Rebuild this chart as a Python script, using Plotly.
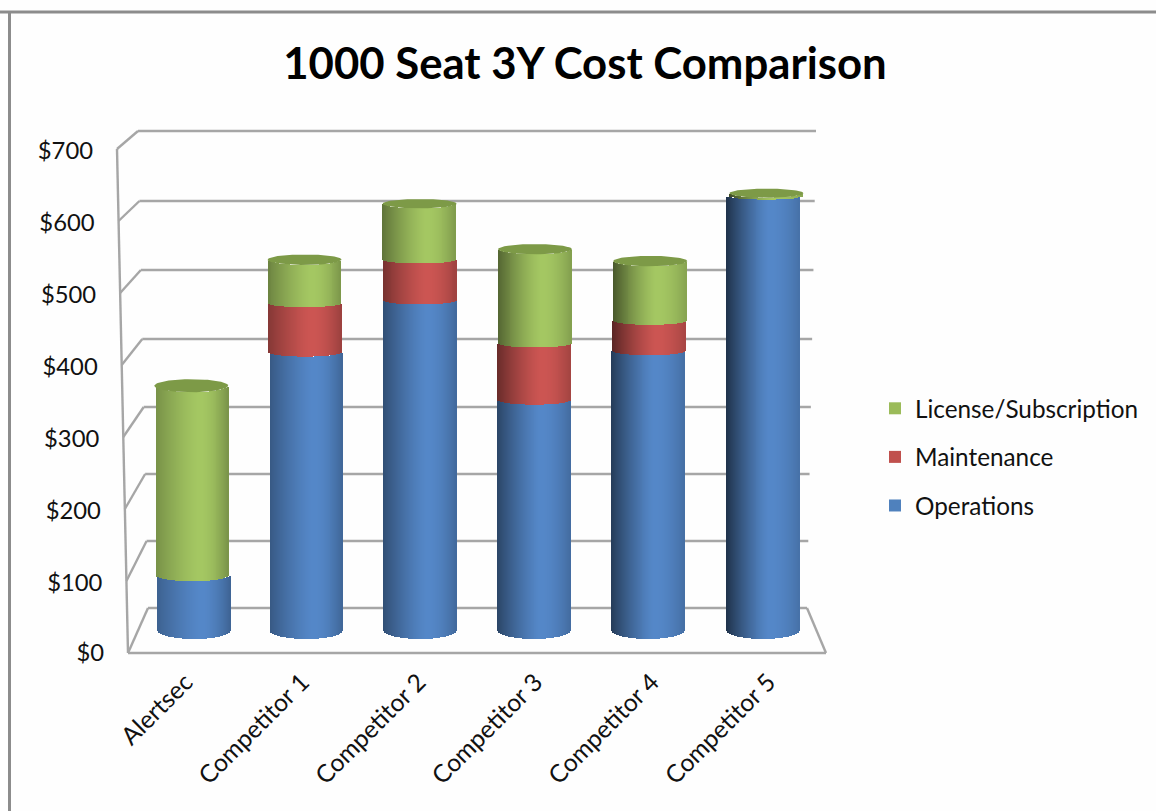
import numpy as np
import plotly.graph_objects as go

categories = ["Alertsec", "Competitor 1", "Competitor 2", "Competitor 3", "Competitor 4", "Competitor 5"]
operations = [79, 397, 471, 329, 399, 620]
maintenance = [0, 70, 58, 81, 43, 0]
license_sub = [270, 62, 80, 134, 85, 4]
y_tick_labels = ["$0", "$100", "$200", "$300", "$400", "$500", "$600", "$700"]
series_names = ["License/Subscription", "Maintenance", "Operations"]

W, H = 1156, 811
FONT = "Lato"
BASE_PX, K = 630.0, 0.70          # pixels of the cylinder floor, pixels per dollar
X0, DX = 195.0, 113.0             # first cylinder centre, spacing at the floor
HALF = 36.4                       # cylinder half width in pixels
N = 74

def x_of(px):
    return (px - X0) / DX

def y_of(py):
    return (BASE_PX - py) / K

def lean_px(i, h):
    return (i - 2.55) * 0.006 * h

def sag_mid(h):
    return 9.0 if h <= 0 else 7.0 - 0.009 * h

def sag_cap(h):
    return 6.5 - 0.01 * (h - 245)

def shade(rgb, t, left, right):
    peak = 0.2
    if t < peak:
        u = (peak - t) / (1 + peak)
        f = 1 - (1 - left) * u ** 1.35
    else:
        u = (t - peak) / (1 - peak)
        f = 1 - (1 - right) * u ** 1.8
    return "rgb(%d,%d,%d)" % tuple(int(c * f) for c in rgb)

BLUE, RED, GREEN = (85, 136, 201), (205, 86, 83), (165, 200, 99)
ts = (np.arange(N) + 0.5) / N * 2 - 1
seg_stack = [operations, maintenance, license_sub]
seg_rgb = [BLUE, RED, GREEN]
seg_names = ["Operations", "Maintenance", "License/Subscription"]

fig = go.Figure()

for s, vals in enumerate(seg_stack):
    xs, ys, bases, cols = [], [], [], []
    for i in range(len(categories)):
        v = vals[i]
        if v <= 0:
            continue
        lo = sum(seg_stack[k][i] for k in range(s))
        hi = lo + v
        top_series = (s == 2)
        hl, hh = lo * K, hi * K
        sl = sag_mid(hl)
        sh = sag_cap(hh) if top_series else sag_mid(hh)
        cx = x_of(X0 + DX * i + lean_px(i, (hl + hh) / 2))
        left = 0.72 - 0.07 * i
        right = 0.74 + 0.02 * i
        for t in ts:
            arc = np.sqrt(1 - t * t)
            b = lo - sl * arc / K
            e = hi - sh * arc / K
            xs.append(cx + t * HALF / DX)
            ys.append(e - b)
            bases.append(b)
            cols.append(shade(seg_rgb[s], t, left, right))
    fig.add_trace(go.Bar(x=xs, y=ys, base=bases, width=1.6 / DX, name=seg_names[s],
                         marker=dict(color=cols, line=dict(width=0)),
                         showlegend=False, hoverinfo="skip"))

# caps of the cylinders
th = np.linspace(0, 2 * np.pi, 80)
for i in range(len(categories)):
    total = operations[i] + maintenance[i] + license_sub[i]
    h = total * K
    cx = x_of(X0 + DX * i + lean_px(i, h))
    fig.add_trace(go.Scatter(x=cx + np.cos(th) * (HALF + 0.6) / DX,
                             y=total + np.sin(th) * sag_cap(h) / K,
                             mode="lines", fill="toself", fillcolor="#7d9a47",
                             line=dict(width=0, color="#7d9a47"),
                             showlegend=False, hoverinfo="skip"))

# value labels beside the slanted front axis
n_ticks = len(y_tick_labels)
front_y = [653 - 72 * n for n in range(n_ticks)]
front_x = [128 - 11 * n / 7 for n in range(n_ticks)]
label_y = [p + (2.5 if n == 0 else 4.5) for n, p in enumerate(front_y)]
fig.add_trace(go.Scatter(x=[x_of(p - 24) for p in front_x], y=[y_of(p) for p in label_y],
                         mode="text", text=y_tick_labels, textposition="middle left",
                         textfont=dict(family=FONT, size=23.8, color="#111111"),
                         showlegend=False, hoverinfo="skip"))

# legend entries
for name, col in zip(series_names, ["#9bbb59", "#c0504d", "#4f81bd"]):
    fig.add_trace(go.Scatter(x=[None], y=[None], mode="markers", name=name, legendgroup=name,
                             marker=dict(symbol="square", size=16, color=col)))

# walls and floor
GRID = "#a6a6a6"
shapes = []
def seg(x0, y0, x1, y1, color=GRID, width=2.4):
    shapes.append(dict(type="line", xref="x", yref="y", layer="below",
                       x0=x_of(x0), y0=y_of(y0), x1=x_of(x1), y1=y_of(y1),
                       line=dict(color=color, width=width)))

back_y = [608, 541, 474, 407, 339, 270, 201, 131]
for n in range(n_ticks):
    bx_l = 148 - 10 * n / 7
    bx_r = 807 + 9 * n / 7
    seg(front_x[n], front_y[n], bx_l, back_y[n])
    seg(bx_l, back_y[n], bx_r, back_y[n])
seg(front_x[0], front_y[0], front_x[-1], front_y[-1])
seg(128, 653, 826, 653)
seg(826, 653, 807, 608)

# outer chart border
for a in (dict(x0=0, x1=1, y0=1 - 12 / H, y1=1 - 12 / H), dict(x0=9.5 / W, x1=9.5 / W, y0=0, y1=1 - 11 / H)):
    shapes.append(dict(type="line", xref="paper", yref="paper", layer="above",
                       line=dict(color="#8c8c8c", width=3), **a))

tick_x = [x_of(185.5 + 116.6 * i) for i in range(len(categories))]

fig.update_layout(
    width=W, height=H, autosize=False,
    margin=dict(l=0, r=0, t=0, b=0),
    paper_bgcolor="#fefefe", plot_bgcolor="#fefefe",
    barmode="overlay", bargap=0, shapes=shapes,
    title=dict(text="<b>1000 Seat 3Y Cost Comparison</b>", x=585 / W, xanchor="center",
               y=1 - 64 / H, yanchor="middle",
               font=dict(family=FONT, size=43.7, color="#000000")),
    xaxis=dict(range=[x_of(0), x_of(W)], domain=[0, 1], anchor="free", position=1 - 662 / H,
               tickmode="array", tickvals=tick_x, ticktext=categories, tickangle=-45,
               tickfont=dict(family=FONT, size=24.6, color="#111111"),
               showgrid=False, zeroline=False, showline=False, ticks=""),
    yaxis=dict(range=[y_of(H), y_of(0)], domain=[0, 1], showgrid=False, zeroline=False,
               showline=False, showticklabels=False, ticks=""),
    legend=dict(x=875 / W, y=1 - 386 / H, xanchor="left", yanchor="top",
                bgcolor="rgba(0,0,0,0)", tracegroupgap=14, itemsizing="constant",
                font=dict(family=FONT, size=24.3, color="#111111")),
    showlegend=True,
)

fig.write_html("out.html", config=dict(displayModeBar=False),
               post_script="document.body.style.margin='0';document.body.style.overflow='hidden';")
